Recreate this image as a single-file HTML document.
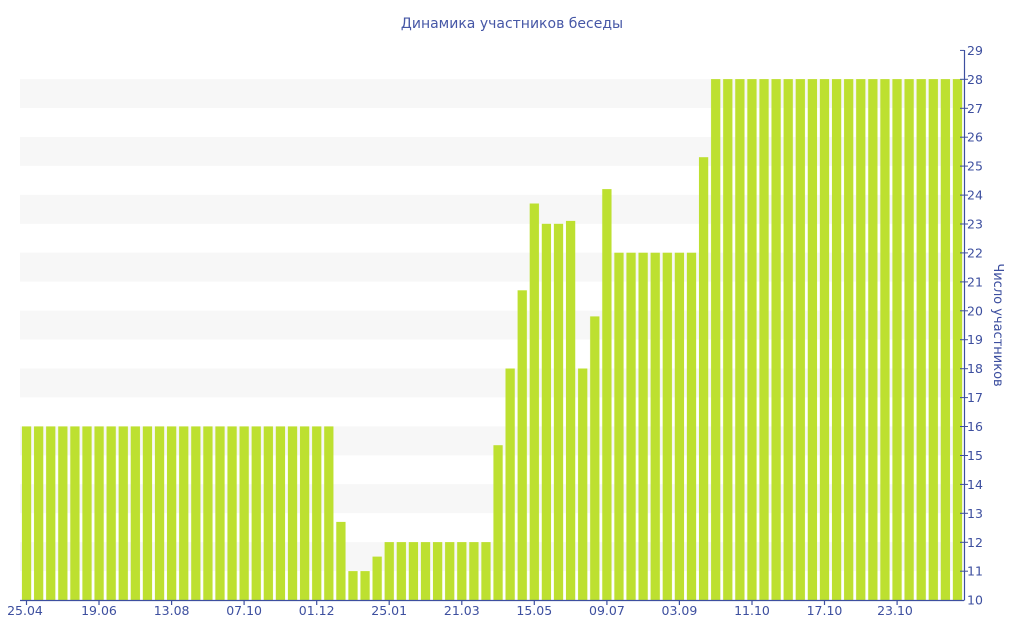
<!DOCTYPE html>
<html><head><meta charset="utf-8"><style>
html,body{margin:0;padding:0;background:#fff;}
svg{display:block;font-family:"DejaVu Sans","Liberation Sans",sans-serif;}
</style></head><body>
<svg width="1024" height="640" viewBox="0 0 1024 640" xmlns="http://www.w3.org/2000/svg">
<defs>
<pattern id="bp" patternUnits="userSpaceOnUse" x="20.5" y="0" width="12.09" height="640">
<rect x="1.4" y="0" width="9.3" height="640" fill="#bde030"/>
</pattern>
</defs>
<text x="512" y="28" text-anchor="middle" font-size="14" fill="#4657a6">Динамика участников беседы</text>
<g fill="#f7f7f7">
<rect x="20" y="79.1" width="944" height="28.94"/>
<rect x="20" y="137" width="944" height="28.94"/>
<rect x="20" y="194.9" width="944" height="28.94"/>
<rect x="20" y="252.7" width="944" height="28.94"/>
<rect x="20" y="310.6" width="944" height="28.94"/>
<rect x="20" y="368.5" width="944" height="28.94"/>
<rect x="20" y="426.4" width="944" height="28.94"/>
<rect x="20" y="484.2" width="944" height="28.94"/>
<rect x="20" y="542.1" width="944" height="28.94"/>
</g>
<g fill="url(#bp)">
<rect x="20.5" y="426.4" width="314.34" height="173.6"/>
<rect x="334.84" y="521.9" width="12.09" height="78.1"/>
<rect x="346.93" y="571.1" width="24.18" height="28.9"/>
<rect x="371.11" y="556.6" width="12.09" height="43.4"/>
<rect x="383.2" y="542.1" width="108.81" height="57.9"/>
<rect x="492.01" y="445.2" width="12.09" height="154.8"/>
<rect x="504.1" y="368.5" width="12.09" height="231.5"/>
<rect x="516.19" y="290.3" width="12.09" height="309.7"/>
<rect x="528.28" y="203.5" width="12.09" height="396.5"/>
<rect x="540.37" y="223.8" width="24.18" height="376.2"/>
<rect x="564.55" y="220.9" width="12.09" height="379.1"/>
<rect x="576.64" y="368.5" width="12.09" height="231.5"/>
<rect x="588.73" y="316.4" width="12.09" height="283.6"/>
<rect x="600.82" y="189.1" width="12.09" height="410.9"/>
<rect x="612.91" y="252.7" width="84.63" height="347.3"/>
<rect x="697.54" y="157.2" width="12.09" height="442.8"/>
<rect x="709.63" y="79.1" width="253.89" height="520.9"/>
</g>
<g stroke="#3d4f9f" stroke-width="1.2">
<line x1="20" y1="600.5" x2="964" y2="600.5"/>
<line x1="964.5" y1="50" x2="964.5" y2="600.5"/>
<line x1="26.5" y1="600" x2="26.5" y2="605"/>
<line x1="99" y1="600" x2="99" y2="605"/>
<line x1="171.6" y1="600" x2="171.6" y2="605"/>
<line x1="244.1" y1="600" x2="244.1" y2="605"/>
<line x1="316.7" y1="600" x2="316.7" y2="605"/>
<line x1="389.2" y1="600" x2="389.2" y2="605"/>
<line x1="461.8" y1="600" x2="461.8" y2="605"/>
<line x1="534.3" y1="600" x2="534.3" y2="605"/>
<line x1="606.9" y1="600" x2="606.9" y2="605"/>
<line x1="679.4" y1="600" x2="679.4" y2="605"/>
<line x1="752" y1="600" x2="752" y2="605"/>
<line x1="824.5" y1="600" x2="824.5" y2="605"/>
<line x1="897.1" y1="600" x2="897.1" y2="605"/>
</g>
<g stroke="#3d4f9f" stroke-width="1">
<line x1="960" y1="50.4" x2="964" y2="50.4"/><line x1="960" y1="79.3" x2="968" y2="79.3"/><line x1="960" y1="108.3" x2="968" y2="108.3"/><line x1="960" y1="137.2" x2="968" y2="137.2"/><line x1="960" y1="166.1" x2="968" y2="166.1"/><line x1="960" y1="195.1" x2="968" y2="195.1"/><line x1="960" y1="224" x2="968" y2="224"/><line x1="960" y1="252.9" x2="968" y2="252.9"/><line x1="960" y1="281.9" x2="968" y2="281.9"/><line x1="960" y1="310.8" x2="968" y2="310.8"/><line x1="960" y1="339.7" x2="968" y2="339.7"/><line x1="960" y1="368.7" x2="968" y2="368.7"/><line x1="960" y1="397.6" x2="968" y2="397.6"/><line x1="960" y1="426.5" x2="968" y2="426.5"/><line x1="960" y1="455.5" x2="968" y2="455.5"/><line x1="960" y1="484.4" x2="968" y2="484.4"/><line x1="960" y1="513.3" x2="968" y2="513.3"/><line x1="960" y1="542.3" x2="968" y2="542.3"/><line x1="960" y1="571.2" x2="968" y2="571.2"/>
</g>
<g font-size="12.5" fill="#3d4f9f" dominant-baseline="central">
<text x="967" y="50.4">29</text><text x="967" y="79.3">28</text><text x="967" y="108.3">27</text><text x="967" y="137.2">26</text><text x="967" y="166.1">25</text><text x="967" y="195.1">24</text><text x="967" y="224">23</text><text x="967" y="252.9">22</text><text x="967" y="281.9">21</text><text x="967" y="310.8">20</text><text x="967" y="339.7">19</text><text x="967" y="368.7">18</text><text x="967" y="397.6">17</text><text x="967" y="426.5">16</text><text x="967" y="455.5">15</text><text x="967" y="484.4">14</text><text x="967" y="513.3">13</text><text x="967" y="542.3">12</text><text x="967" y="571.2">11</text><text x="967" y="600.2">10</text>
</g>
<text transform="translate(994,325) rotate(90)" text-anchor="middle" font-size="13" fill="#3d4f9f">Число участников</text>
<g font-size="12.5" fill="#3d4f9f" text-anchor="middle">
<text x="25" y="615">25.04</text><text x="99" y="615">19.06</text><text x="171.6" y="615">13.08</text><text x="244.1" y="615">07.10</text><text x="316.7" y="615">01.12</text><text x="389.2" y="615">25.01</text><text x="461.8" y="615">21.03</text><text x="534.3" y="615">15.05</text><text x="606.9" y="615">09.07</text><text x="679.4" y="615">03.09</text><text x="752" y="615">11.10</text><text x="824.5" y="615">17.10</text><text x="895" y="615">23.10</text>
</g>
</svg>
</body></html>
